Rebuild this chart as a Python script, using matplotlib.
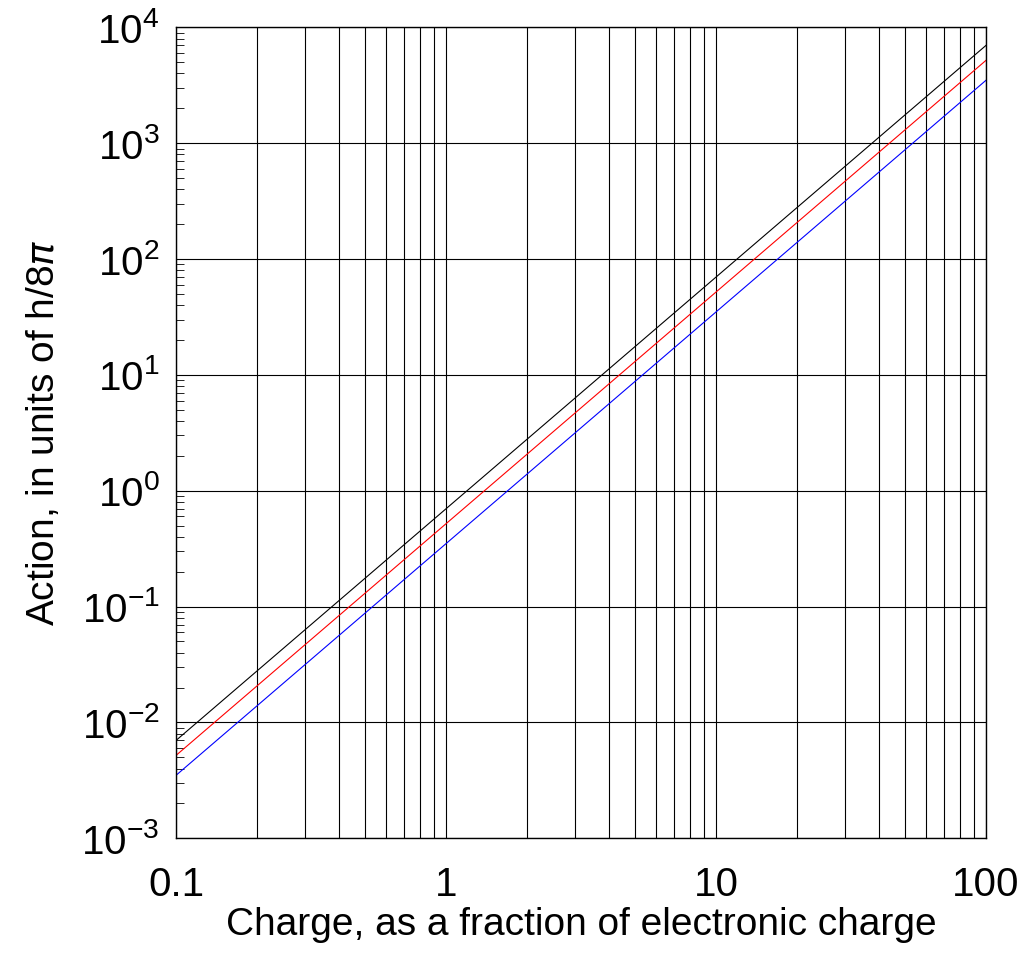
import matplotlib
matplotlib.use("Agg")
import matplotlib.pyplot as plt
from matplotlib.ticker import LogLocator, NullFormatter

plt.rcParams['font.family'] = ['Liberation Sans', 'DejaVu Sans']
plt.rcParams['mathtext.fontset'] = 'custom'
plt.rcParams['mathtext.rm'] = 'Liberation Sans'

charge = [0.1, 100]
black = [7.0e-3, 7.0e3]
red = [5.2e-3, 5.2e3]
blue = [3.5e-3, 3.5e3]
xticks = [0.1, 1, 10, 100]
xlabels = ['0.1', '1', '10', '100']
yticks = [1e-3, 1e-2, 1e-1, 1e0, 1e1, 1e2, 1e3, 1e4]
ylabels = ['10$^{-3}$', '10$^{-2}$', '10$^{-1}$', '10$^{0}$', '10$^{1}$', '10$^{2}$', '10$^{3}$', '10$^{4}$']

fig = plt.figure(figsize=(10.24, 9.77), dpi=100)
ax = fig.add_axes([0.172, 0.142, 0.791, 0.83])
ax.set_xscale('log'); ax.set_yscale('log')
ax.set_xlim(0.1, 100); ax.set_ylim(1e-3, 1e4)
ax.plot(charge, black, color='black', lw=0.8)
ax.plot(charge, red, color='red', lw=0.8)
ax.plot(charge, blue, color='blue', lw=0.8)
ax.set_xticks(xticks); ax.set_xticklabels(xlabels)
ax.set_yticks(yticks); ax.set_yticklabels(ylabels)
ax.xaxis.set_minor_locator(LogLocator(base=10, subs=range(2, 10)))
ax.xaxis.set_minor_formatter(NullFormatter())
ax.yaxis.set_minor_locator(LogLocator(base=10, subs=range(2, 10)))
ax.yaxis.set_minor_formatter(NullFormatter())
ax.grid(True, which='major', axis='both', color='black', lw=0.8)
ax.grid(True, which='minor', axis='x', color='black', lw=0.8)
ax.tick_params(axis='both', which='major', direction='in', length=0, labelsize=29)
ax.tick_params(axis='x', which='major', pad=20)
ax.tick_params(axis='y', which='major', pad=12)
ax.tick_params(axis='y', which='minor', direction='in', length=6, left=True)
ax.tick_params(axis='x', which='minor', length=0)
for s in ax.spines.values():
    s.set_linewidth(1.0)
ax.set_xlabel('Charge, as a fraction of electronic charge', fontsize=28, labelpad=2)
ax.set_ylabel(r'Action, in units of h/8$\pi$', fontsize=28, labelpad=14)
fig.savefig('out.png', dpi=100)
